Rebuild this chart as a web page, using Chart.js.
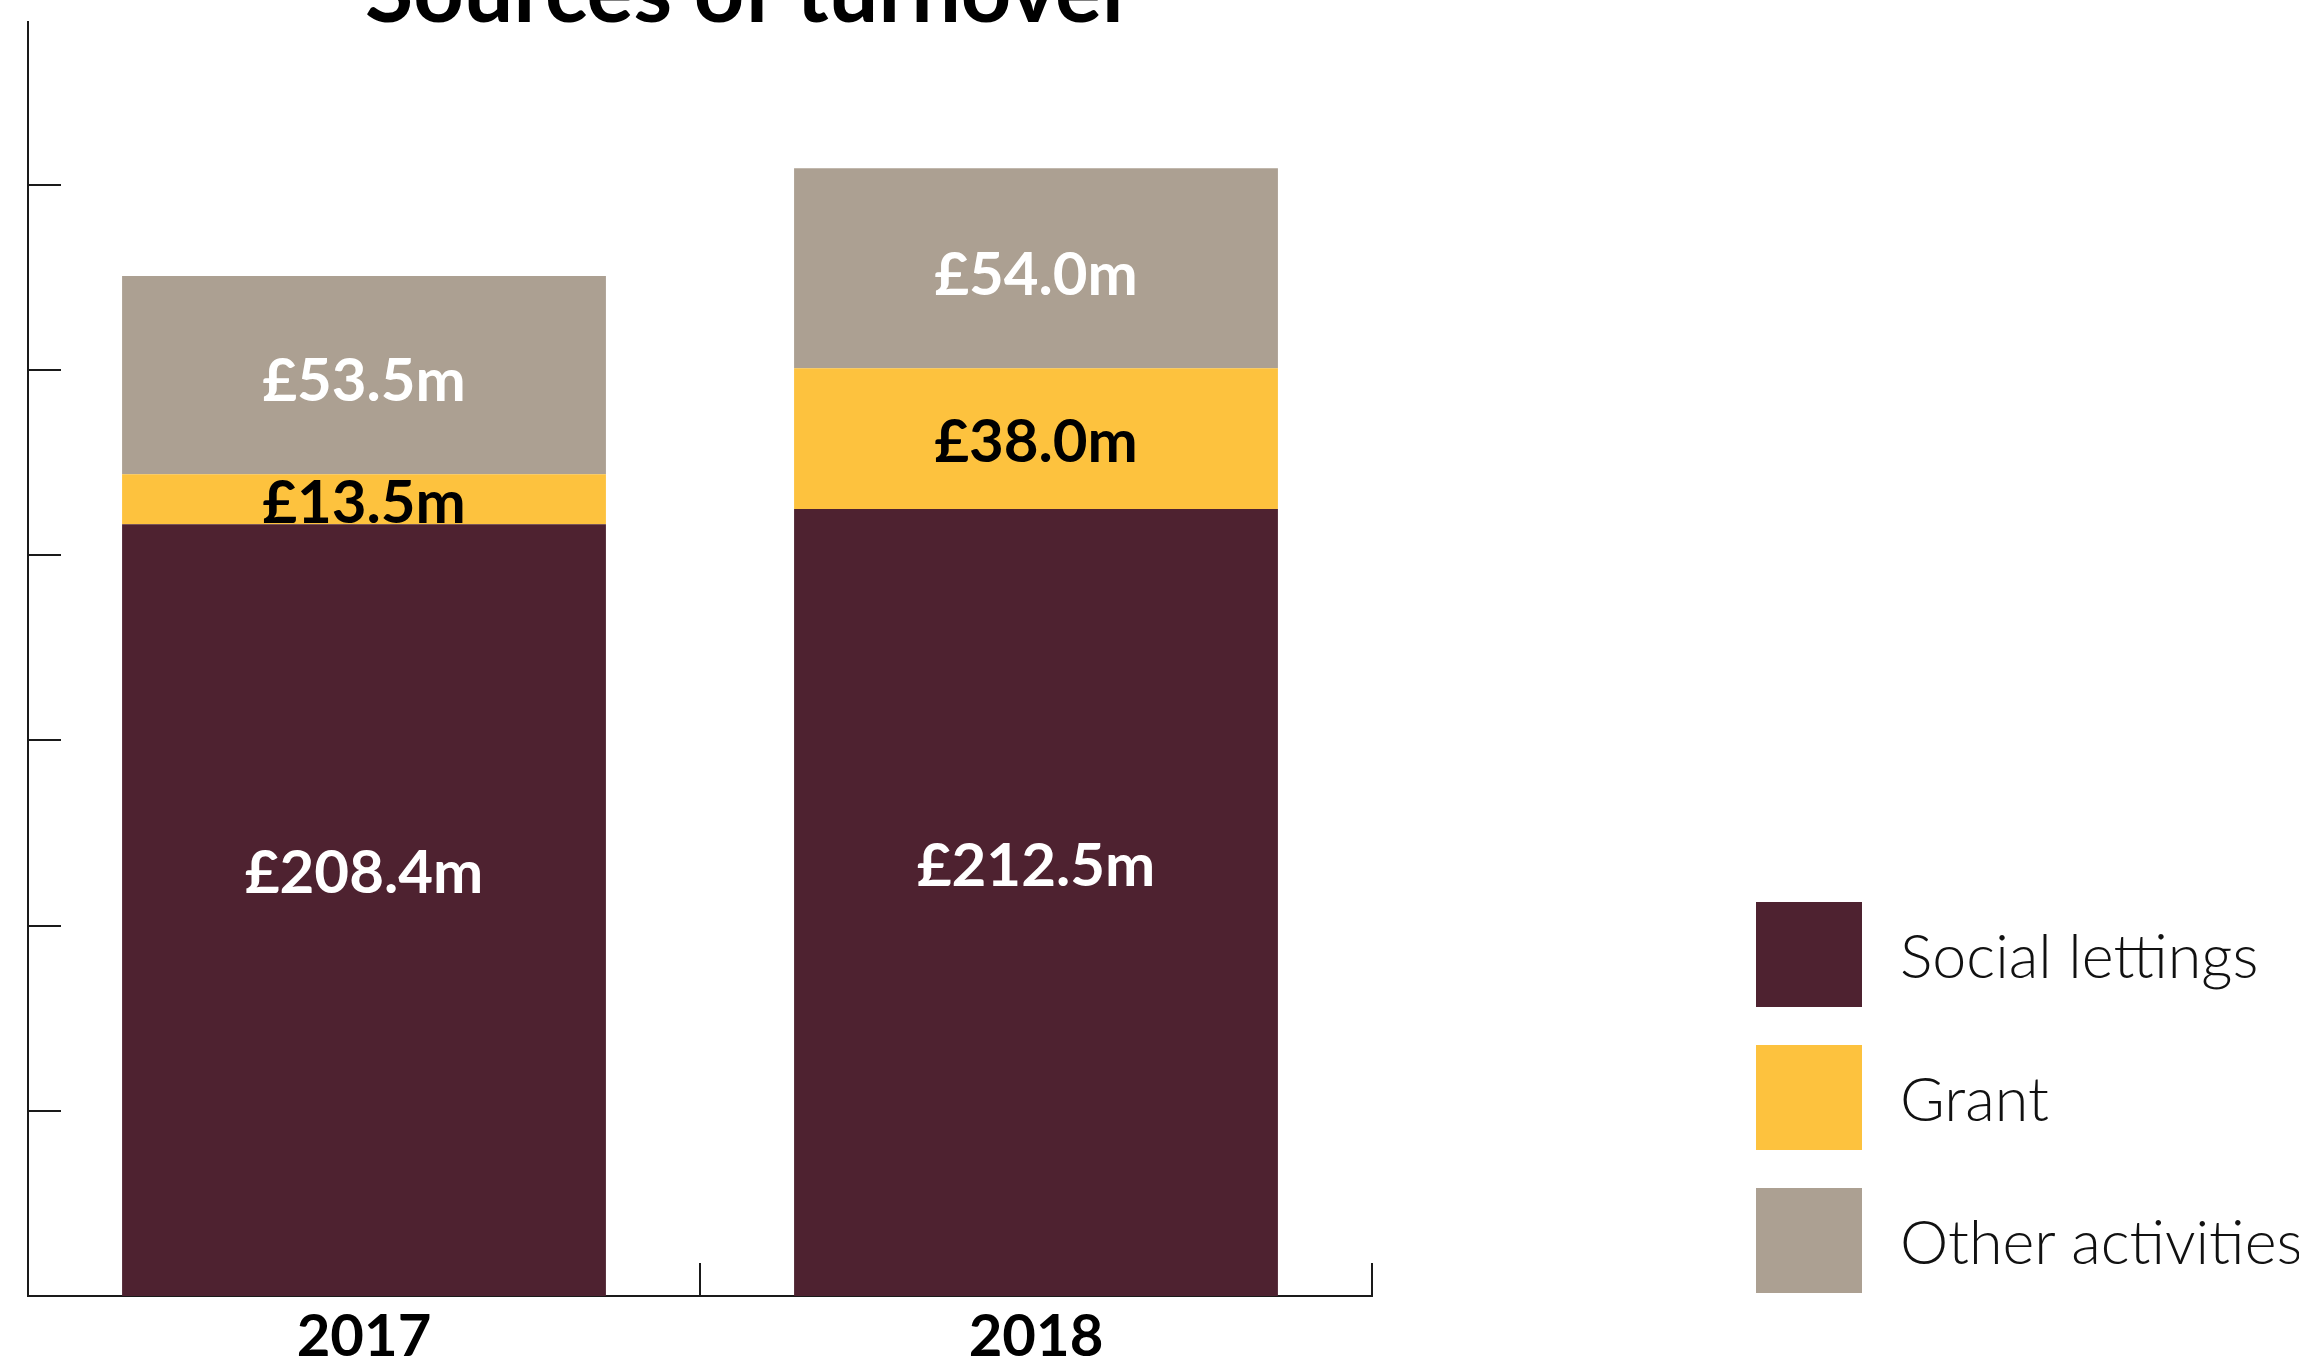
<!DOCTYPE html>
<html>
<head>
<meta charset="utf-8">
<title>Sources of turnover</title>
<script src="https://cdn.jsdelivr.net/npm/chart.js@4"></script>
<style>
  html, body { margin: 0; padding: 0; background: #fff; }
  #wrap { position: relative; width: 2299px; height: 1357px; overflow: hidden; }
  #turnoverChart { position: absolute; left: 0; top: 0; }
  #legend {
    position: absolute; left: 1756px; top: 902px;
    font-family: Lato, "Open Sans", sans-serif; font-weight: 300;
    font-size: 61px; color: #111;
  }
  .item { display: flex; align-items: center; height: 105px; margin-bottom: 38px; white-space: nowrap; }
  .swatch { width: 106px; height: 105px; margin-right: 38px; flex: none; }
</style>
</head>
<body>
<div id="wrap">
  <canvas id="turnoverChart" width="2299" height="1357"></canvas>
  <div id="legend"></div>
</div>
<script>
const years = ['2017', '2018'];
const socialLettings = [208.4, 212.5];
const grant = [13.5, 38.0];
const otherActivities = [53.5, 54.0];

const seriesNames = ['Social lettings', 'Grant', 'Other activities'];
const seriesColors = ['#4e2230', '#fdc23e', '#aca092'];
const valueLabelColors = ['#ffffff', '#000000', '#ffffff'];
// vertical nudge of each series' value label from the segment middle
const valueLabelShift = [-36, 4, 7];
const yTicks = [0, 50, 100, 150, 200, 250, 300];

const AXIS_COLOR = '#1a1a1a';

// value labels inside every segment
const segmentLabels = {
    id: 'segmentLabels',
    afterDatasetsDraw(chart) {
        const ctx = chart.ctx;
        ctx.save();
        ctx.font = 'bold 60px Lato, "Open Sans", sans-serif';
        ctx.textAlign = 'center';
        ctx.textBaseline = 'middle';
        chart.data.datasets.forEach((ds, i) => {
            const meta = chart.getDatasetMeta(i);
            meta.data.forEach((bar, j) => {
                ctx.fillStyle = valueLabelColors[i];
                ctx.fillText('£' + ds.data[j].toFixed(1) + 'm', bar.x, (bar.y + bar.base) / 2 + valueLabelShift[i]);
            });
        });
        ctx.restore();
    }
};

// inward tick marks on both axes, plus the heading
const axisMarks = {
    id: 'axisMarks',
    afterDraw(chart) {
        const { ctx, chartArea, scales: { x, y } } = chart;
        ctx.save();
        ctx.strokeStyle = AXIS_COLOR;
        ctx.lineWidth = 2;
        ctx.beginPath();
        yTicks.forEach(v => {
            if (v === 0) return;
            const py = Math.round(y.getPixelForValue(v));
            ctx.moveTo(chartArea.left, py);
            ctx.lineTo(chartArea.left + 33, py);
        });
        const step = x.getPixelForValue(1) - x.getPixelForValue(0);
        years.forEach((_, i) => {
            const px = Math.round(x.getPixelForValue(i) + step / 2);
            ctx.moveTo(px, chartArea.bottom);
            ctx.lineTo(px, chartArea.bottom - 33);
        });
        ctx.stroke();

        ctx.fillStyle = '#000';
        ctx.font = 'bold 88px Lato, "Open Sans", sans-serif';
        ctx.textAlign = 'center';
        ctx.textBaseline = 'alphabetic';
        ctx.fillText('Sources of turnover', 750, 22);
        ctx.restore();
    }
};

const seriesData = [socialLettings, grant, otherActivities];

const turnoverChart = new Chart(document.getElementById('turnoverChart'), {
    type: 'bar',
    data: {
        labels: years,
        datasets: seriesNames.map((name, i) => ({
            label: name,
            data: seriesData[i],
            backgroundColor: seriesColors[i],
            borderWidth: 0,
            categoryPercentage: 1,
            barPercentage: 0.72
        }))
    },
    options: {
        responsive: false,
        animation: false,
        layout: {
            padding: { left: 20, right: 927, top: 22, bottom: -13 }
        },
        scales: {
            x: {
                stacked: true,
                grid: { display: false },
                border: { display: true, color: AXIS_COLOR, width: 2 },
                ticks: {
                    color: '#000',
                    padding: 4,
                    font: { family: 'Lato, "Open Sans", sans-serif', weight: 'bold', size: 58, lineHeight: 1 }
                }
            },
            y: {
                stacked: true,
                min: 0,
                max: 344,
                grid: { display: false },
                border: { display: true, color: AXIS_COLOR, width: 2 },
                ticks: { display: false },
                afterBuildTicks: scale => {
                    scale.ticks = yTicks.map(v => ({ value: v }));
                }
            }
        },
        plugins: {
            legend: { display: false },
            tooltip: { enabled: false }
        }
    },
    plugins: [segmentLabels, axisMarks]
});

// legend beside the plot
const legendEl = document.getElementById('legend');
seriesNames.forEach((name, i) => {
    const row = document.createElement('div');
    row.className = 'item';
    const sw = document.createElement('span');
    sw.className = 'swatch';
    sw.style.background = seriesColors[i];
    const txt = document.createElement('span');
    txt.textContent = name;
    row.appendChild(sw);
    row.appendChild(txt);
    legendEl.appendChild(row);
});
</script>
</body>
</html>
